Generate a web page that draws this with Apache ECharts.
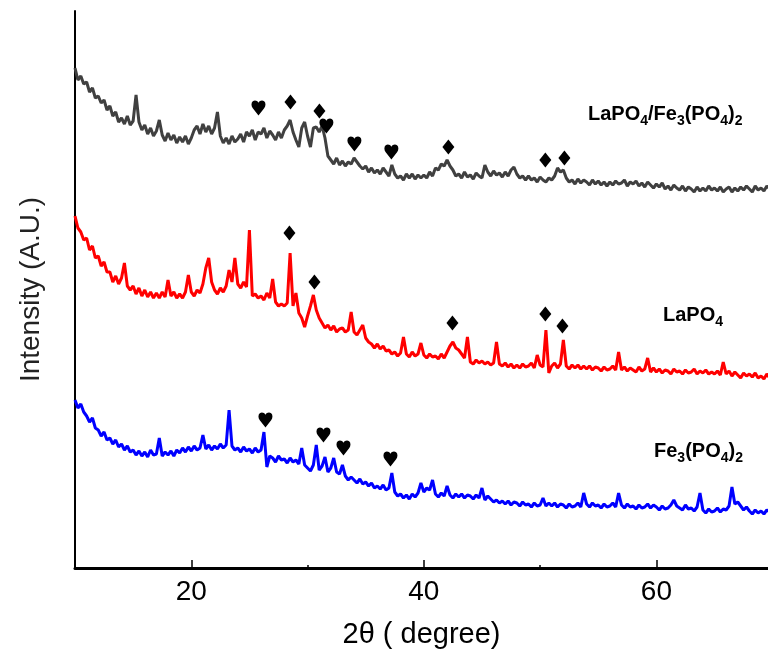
<!DOCTYPE html>
<html>
<head>
<meta charset="utf-8">
<script src="https://cdn.jsdelivr.net/npm/echarts@6/dist/echarts.min.js"></script>
<style>html,body{margin:0;padding:0;background:#fff}#c{width:768px;height:657px}</style>
</head>
<body>
<div id="c"></div>
<script>
// 2θ sampling: 10.00 .. 69.75, step 0.25 (4 values per degree)
const thetaStart = 10;
const thetaStep = 0.25;

// LaPO4/Fe3(PO4)2 (gray, top)
const grayCurve = [
500,488,492,484, 486,476,480,470, 472,465,468,458, 462,452,456,446, 450,444,452,443,
447,473,446,438, 443,434,440,432, 437,448,433,427, 435,428,433,425, 431,426,432,424,
430,438,442,434, 444,436,442,434, 440,456,432,425, 430,424,432,426, 429,434,426,436,
432,438,428,436, 434,440,430,437, 433,428,436,430, 438,442,448,436, 428,421,440,446,
432,421,440,441, 436,442,430,412, 408,404,410,403, 407,402,406,404, 410,406,402,399,
402,396,400,395, 398,394,400,396, 392,403,394,390, 392,388,394,390, 394,389,393,390,
393,390,396,392, 400,398,404,402, 408,402,398,392, 394,390,396,391, 393,389,395,392,
390,403,396,392, 397,393,395,391, 396,392,398,401, 394,390,392,388, 392,388,390,386,
391,388,386,390, 388,392,400,396, 398,390,386,388, 384,389,385,388, 386,383,388,384,
387,383,386,382, 386,383,387,384, 385,388,382,386, 384,387,382,385, 381,386,383,380,
384,381,385,379, 382,378,383,380, 378,382,377,381, 379,376,381,377, 380,377,382,378,
380,377,381,376, 379,381,376,380, 377,381,378,382, 379,376,382,378, 380,377,382,379
];

// LaPO4 (red, middle)
const redCurve = [
352,340,336,328, 330,318,322,310, 312,302,306,296, 296,286,292,284, 290,305,282,278,
282,274,280,272, 278,271,276,270, 275,270,276,271, 288,272,276,270, 274,270,276,293,
276,272,278,275, 284,300,310,286, 278,274,280,276, 282,298,286,310, 284,280,286,281,
338,272,274,270, 272,268,275,270, 289,266,262,264, 262,265,315,262, 275,255,250,241,
252,262,273,258, 250,245,240,243, 238,242,236,239, 240,236,238,256, 236,233,238,243,
230,226,224,220, 224,219,222,217, 218,214,216,212, 215,231,214,211, 216,212,214,225,
213,210,214,211, 212,209,214,210, 216,222,226,220, 218,214,210,231, 206,204,208,205,
207,204,206,203, 205,226,204,202, 205,201,204,200, 203,200,204,201, 202,205,200,213,
203,201,238,195, 202,205,200,204, 228,202,199,203, 200,203,199,202, 199,202,198,201,
200,197,201,198, 199,202,198,216, 198,201,197,200, 198,196,201,197, 199,210,196,200,
196,199,195,198, 197,194,199,196, 197,194,198,195, 196,199,194,197, 195,198,194,196,
194,197,193,206, 194,197,192,196, 193,190,195,192, 194,191,195,190, 192,189,194,190
];

// Fe3(PO4)2 (blue, bottom)
const blueCurve = [
168,160,164,156, 152,146,150,140, 138,132,136,128, 130,124,128,121, 124,118,122,116,
118,113,117,112, 116,111,118,113, 114,130,112,116, 113,117,112,118, 115,120,116,121,
117,122,118,120, 133,119,123,118, 122,119,124,120, 123,158,122,118, 120,116,121,117,
119,115,120,116, 118,136,101,112, 110,106,112,108, 109,105,110,106, 108,104,120,103,
100,97,103,123, 98,102,111,96, 100,110,96,94, 103,92,88,91, 88,85,89,84,
86,82,85,80, 82,79,83,78, 80,95,76,72, 74,70,73,69, 74,71,75,85,
76,80,78,88, 74,71,75,72, 82,73,70,74, 71,74,70,73, 72,69,73,70,
80,68,72,69, 66,68,65,67, 64,67,63,66, 65,62,66,63, 64,61,65,62,
63,70,62,65, 62,65,61,64, 63,60,64,61, 62,65,61,75, 64,61,65,62,
63,60,64,61, 62,65,61,75, 63,60,64,61, 62,59,63,60, 61,64,60,63,
61,58,62,59, 60,63,68,62, 60,58,63,59, 60,57,61,75, 58,55,59,56,
57,60,56,59, 58,62,81,64, 66,62,58,61, 57,54,58,55, 57,54,58,56
];

// Peak markers [2θ, intensity]
const grayHearts = [[25.78,460],[31.62,442],[34.03,424],[37.21,416]];
const grayDiamonds = [[28.53,466],[31.02,457],[42.11,421],[50.45,408],[52.09,410]];
const redDiamonds = [[28.44,335],[30.59,286],[42.46,245],[50.45,254],[51.92,242]];
const blueHearts = [[26.38,148],[31.37,133],[33.09,120],[37.13,109]];

const xTickLabels = [20, 40, 60];
const xMinorTicks = [30, 50];

function toPairs(vals) {
  return vals.map((v, i) => [thetaStart + i * thetaStep, v]);
}

const heartPath = 'path://M10,19 L2,10 C-0.5,7 -0.5,3 2,1.2 C4.5,-0.6 8.5,0.2 10,3.2 C11.5,0.2 15.5,-0.6 18,1.2 C20.5,3 20.5,7 18,10 Z';

const FONT = '"Liberation Sans", Arial, sans-serif';
const rich = {
  m: {fontSize: 20, fontWeight: 'bold', fontFamily: FONT, color: '#000', lineHeight: 24},
  s: {fontSize: 14, fontWeight: 'bold', fontFamily: FONT, color: '#000', padding: [14, 0, 0, 0]}
};

const chart = echarts.init(document.getElementById('c'), null, {renderer: 'canvas'});
const lineSeries = (data, color) => ({
  type: 'line', data: toPairs(data), showSymbol: false, symbol: 'none',
  lineStyle: {color: color, width: 3}, sampling: null, animation: false, z: 2
});
const markSeries = (data, sym, size) => ({
  type: 'scatter', data: data, symbol: sym, symbolSize: size,
  itemStyle: {color: '#000', opacity: 1}, animation: false, z: 3
});

chart.setOption({
  animation: false,
  backgroundColor: '#fff',
  grid: {left: 75, right: 0, top: 11, bottom: 89, containLabel: false},
  xAxis: [{
    type: 'value', min: 10, max: 69.6, interval: 10,
    axisLine: {show: true, lineStyle: {color: '#000', width: 3}},
    axisTick: {show: true, inside: true, length: 8, customValues: xTickLabels, lineStyle: {color: '#000', width: 1.5}},
    axisLabel: {show: true, customValues: xTickLabels, fontSize: 28, fontFamily: FONT, color: '#000', margin: 10},
    splitLine: {show: false},
    name: '2θ ( degree)', nameLocation: 'middle', nameGap: 52,
    nameTextStyle: {fontSize: 29, fontFamily: FONT, color: '#000'}
  }, {
    type: 'value', min: 10, max: 69.6, position: 'bottom',
    axisLine: {show: false},
    axisTick: {show: true, inside: true, length: 3, customValues: xMinorTicks, lineStyle: {color: '#000', width: 1.5}},
    axisLabel: {show: false}, splitLine: {show: false}
  }],
  yAxis: {
    type: 'value', min: 0, max: 557,
    axisLine: {show: true, lineStyle: {color: '#000', width: 2}},
    axisTick: {show: false}, axisLabel: {show: false}, splitLine: {show: false},
    name: 'Intensity (A.U.)', nameLocation: 'middle', nameGap: 30,
    nameTextStyle: {fontSize: 28, fontFamily: FONT, color: '#222'}
  },
  series: [
    lineSeries(grayCurve, '#404040'),
    lineSeries(redCurve, '#ff0000'),
    lineSeries(blueCurve, '#0000ff'),
    markSeries(grayHearts, heartPath, [14, 15]),
    markSeries(blueHearts, heartPath, [14, 15]),
    markSeries(grayDiamonds, 'diamond', [12, 15]),
    markSeries(redDiamonds, 'diamond', [12, 15])
  ],
  graphic: [
    {type: 'text', left: 588, top: 104, style: {text: '{m|LaPO}{s|4}{m|/Fe}{s|3}{m|(PO}{s|4}{m|)}{s|2}', rich: rich}},
    {type: 'text', left: 663, top: 305, style: {text: '{m|LaPO}{s|4}', rich: rich}},
    {type: 'text', left: 654, top: 441, style: {text: '{m|Fe}{s|3}{m|(PO}{s|4}{m|)}{s|2}', rich: rich}}
  ]
});
</script>
</body>
</html>
